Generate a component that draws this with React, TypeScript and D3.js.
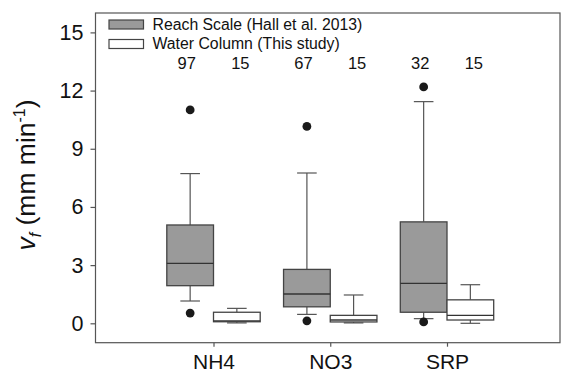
import * as d3 from "d3";
import { useEffect, useRef } from "react";

// nutrients on the x axis
const categories = ["NH4", "NO3", "SRP"];
const seriesNames = ["Reach Scale (Hall et al. 2013)", "Water Column (This study)"];
const seriesFill = ["#9a9a9a", "#ffffff"];

// box stats: [whiskerLow, q1, median, q3, whiskerHigh]
const reachStats = [
  [1.15, 1.94, 3.09, 5.07, 7.72],
  [0.46, 0.85, 1.51, 2.78, 7.75],
  [0.24, 0.57, 2.06, 5.23, 11.43],
];
const waterStats = [
  [0.02, 0.08, 0.13, 0.57, 0.77],
  [0.02, 0.07, 0.17, 0.41, 1.46],
  [0.0, 0.17, 0.41, 1.21, 1.99],
];
// outlying points (5th / 95th percentile dots)
const reachOutliers = [
  [0.53, 11.0],
  [0.13, 10.15],
  [0.07, 12.19],
];
const waterOutliers: number[][] = [[], [], []];

const reachN = [97, 67, 32];
const waterN = [15, 15, 15];
const yTicks = [0, 3, 6, 9, 12, 15];

const FONT = "'Liberation Sans', Arial, sans-serif";

export default function App() {
  const ref = useRef<SVGSVGElement | null>(null);

  useEffect(() => {
    document.body.style.margin = "0";
    const svg = d3.select(ref.current as SVGSVGElement);
    svg.selectAll("*").remove();

    const width = 561;
    const height = 373;
    const frame = { left: 95.5, right: 560, top: 13, bottom: 342.7 };

    const x = d3.scaleLinear().domain([1, 3]).range([213.5, 447]);
    const y = d3.scaleLinear().domain([-1, 16]).range([frame.bottom, frame.top]);
    const step = x(2) - x(1);
    const boxW = step * 0.4;
    const capW = boxW * 0.42;

    svg.attr("width", width).attr("height", height);

    // frame
    svg
      .append("rect")
      .attr("x", frame.left)
      .attr("y", frame.top)
      .attr("width", frame.right - frame.left)
      .attr("height", frame.bottom - frame.top)
      .attr("fill", "none")
      .attr("stroke", "#555")
      .attr("stroke-width", 1.2);

    // y axis
    const yAxis = svg
      .append("g")
      .attr("transform", `translate(${frame.left},0)`)
      .call(d3.axisLeft(y).tickValues(yTicks).tickSize(5).tickPadding(7).tickFormat(d3.format("d")));
    yAxis.select(".domain").remove();
    yAxis.selectAll("line").attr("stroke", "#555").attr("stroke-width", 1.2);
    yAxis
      .selectAll("text")
      .attr("font-family", FONT)
      .attr("font-size", "21.5px")
      .attr("fill", "#111");

    // x axis
    const xAxis = svg
      .append("g")
      .attr("transform", `translate(0,${frame.bottom})`)
      .call(
        d3
          .axisBottom(x)
          .tickValues([1, 2, 3])
          .tickSize(4)
          .tickPadding(7)
          .tickFormat((d) => categories[Number(d) - 1])
      );
    xAxis.select(".domain").remove();
    xAxis.selectAll("line").attr("stroke", "#555").attr("stroke-width", 1.2);
    xAxis
      .selectAll("text")
      .attr("font-family", FONT)
      .attr("font-size", "21px")
      .attr("fill", "#111");

    // boxes
    const groups = [
      { stats: reachStats, outliers: reachOutliers, n: reachN, offset: -boxW / 2, fill: seriesFill[0] },
      { stats: waterStats, outliers: waterOutliers, n: waterN, offset: boxW / 2, fill: seriesFill[1] },
    ];

    groups.forEach((grp) => {
      grp.stats.forEach((s, i) => {
        const cx = x(i + 1) + grp.offset;
        const g = svg.append("g");
        const [lo, q1, med, q3, hi] = s;

        // whiskers
        g.append("line")
          .attr("x1", cx).attr("x2", cx)
          .attr("y1", y(q3)).attr("y2", y(hi))
          .attr("stroke", "#555").attr("stroke-width", 1.2);
        g.append("line")
          .attr("x1", cx).attr("x2", cx)
          .attr("y1", y(q1)).attr("y2", y(lo))
          .attr("stroke", "#555").attr("stroke-width", 1.2);
        [lo, hi].forEach((v) => {
          g.append("line")
            .attr("x1", cx - capW / 2).attr("x2", cx + capW / 2)
            .attr("y1", y(v)).attr("y2", y(v))
            .attr("stroke", "#555").attr("stroke-width", 1.2);
        });

        g.append("rect")
          .attr("x", cx - boxW / 2)
          .attr("y", y(q3))
          .attr("width", boxW)
          .attr("height", y(q1) - y(q3))
          .attr("fill", grp.fill)
          .attr("stroke", "#444")
          .attr("stroke-width", 1.3);
        g.append("line")
          .attr("x1", cx - boxW / 2).attr("x2", cx + boxW / 2)
          .attr("y1", y(med)).attr("y2", y(med))
          .attr("stroke", "#333").attr("stroke-width", 1.3);

        g.selectAll("circle")
          .data(grp.outliers[i])
          .enter()
          .append("circle")
          .attr("cx", cx)
          .attr("cy", (d) => y(d))
          .attr("r", 4.4)
          .attr("fill", "#1a1a1a");

        // sample size
        svg
          .append("text")
          .attr("x", cx + (grp.offset < 0 ? -3.5 : 3.5))
          .attr("y", 68.5)
          .attr("text-anchor", "middle")
          .attr("font-family", FONT)
          .attr("font-size", "16.5px")
          .attr("fill", "#111")
          .text(grp.n[i]);
      });
    });

    // legend
    const legend = svg.append("g").attr("transform", "translate(109,20)");
    seriesNames.forEach((name, i) => {
      const row = legend.append("g").attr("transform", `translate(0,${i * 19.5})`);
      row
        .append("rect")
        .attr("width", 34.5)
        .attr("height", 9)
        .attr("fill", seriesFill[i])
        .attr("stroke", "#444")
        .attr("stroke-width", 1.2);
      row
        .append("text")
        .attr("x", 43.5)
        .attr("y", 9.8)
        .attr("font-family", FONT)
        .attr("font-size", "15.8px")
        .attr("fill", "#111")
        .text(name);
    });

    // y axis title
    const title = svg
      .append("text")
      .attr("transform", `translate(35,175) rotate(-90)`)
      .attr("text-anchor", "middle")
      .attr("font-family", FONT)
      .attr("font-size", "26.5px")
      .attr("fill", "#111");
    title.append("tspan").attr("font-style", "italic").text("v");
    title.append("tspan").attr("font-style", "italic").attr("font-size", "16px").attr("dy", 6).text("f");
    title.append("tspan").attr("dy", -6).text(" (mm min");
    title.append("tspan").attr("font-size", "16px").attr("dy", -10).text("-1");
    title.append("tspan").attr("dy", 10).text(")");
  }, []);

  return <svg ref={ref} style={{ display: "block" }} />;
}
